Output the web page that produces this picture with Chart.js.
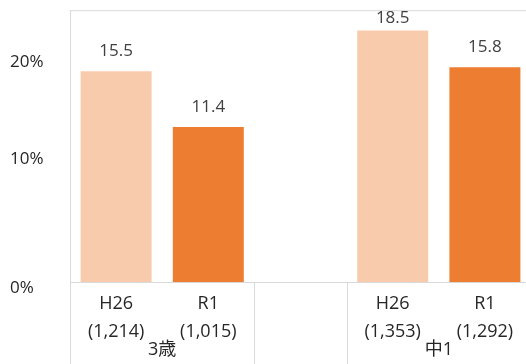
<!DOCTYPE html>
<html>
<head>
<meta charset="utf-8">
<script src="https://cdn.jsdelivr.net/npm/chart.js@4.4.1/dist/chart.umd.min.js"></script>
<style>
  html, body { margin: 0; padding: 0; overflow: hidden; background: #fff; }
  #wrap { width: 540px; height: 364px; }
</style>
</head>
<body>
<div id="wrap"><canvas id="chart"></canvas></div>
<script>
/* global Chart */

const groups = ['3歳', '中1']
const years = ['H26', 'R1']
const counts = [['(1,214)', '(1,015)'], ['(1,353)', '(1,292)']]
const valuesH26 = [15.5, 18.5]
const valuesR1 = [11.4, 15.8]
const yTickLabels = ['0%', '10%', '20%']
const yMax = 20
const colors = ['#F8CBAD', '#ED7D31']

const FONT = "'Open Sans', 'Noto Sans CJK JP', sans-serif"
const LINE = '#d9d9d9'

// two bars per group, one empty slot between the groups
const labels = []
const values = []
const barColors = []
groups.forEach((g, gi) => {
  if (gi > 0) {
    labels.push('')
    values.push(null)
    barColors.push('rgba(0,0,0,0)')
  }
  years.forEach((y, yi) => {
    labels.push([y, counts[gi][yi]])
    values.push(yi === 0 ? valuesH26[gi] : valuesR1[gi])
    barColors.push(colors[yi])
  })
})

const framePlugin = {
  id: 'frame',
  beforeDatasetsDraw (chart) {
    const { ctx, chartArea: a, scales: { x } } = chart
    ctx.save()
    ctx.strokeStyle = LINE
    ctx.lineWidth = 1
    ctx.beginPath()
    ctx.moveTo(a.left, a.top + 0.5)
    ctx.lineTo(a.right, a.top + 0.5)
    ctx.moveTo(a.left + 0.5, a.top)
    ctx.lineTo(a.left + 0.5, chart.height)
    ctx.moveTo(a.left, a.bottom + 0.5)
    ctx.lineTo(a.right, a.bottom + 0.5)
    // separators around the empty slot
    labels.forEach((l, i) => {
      if (l === '') {
        [i - 0.5, i + 0.5].forEach((v) => {
          const px = Math.round(x.getPixelForValue(v)) + 0.5
          ctx.moveTo(px, a.bottom)
          ctx.lineTo(px, chart.height)
        })
      }
    })
    ctx.stroke()
    ctx.restore()
  },
  afterDatasetsDraw (chart) {
    const { ctx, chartArea: a, scales: { x } } = chart
    const meta = chart.getDatasetMeta(0)
    ctx.save()
    ctx.font = `17px ${FONT}`
    ctx.textAlign = 'center'
    ctx.textBaseline = 'middle'
    ctx.fillStyle = '#404040'
    meta.data.forEach((bar, i) => {
      const v = values[i]
      if (v === null) return
      ctx.fillText(v.toFixed(1), bar.x, Math.max(bar.y - 20, a.top + 8))
    })
    // group labels
    ctx.font = `18px ${FONT}`
    ctx.fillStyle = '#262626'
    let idx = 0
    groups.forEach((g, gi) => {
      if (gi > 0) idx++
      const cx = (x.getPixelForValue(idx) + x.getPixelForValue(idx + years.length - 1)) / 2
      ctx.fillText(g, cx, a.bottom + 68)
      idx += years.length
    })
    ctx.restore()
  }
}

new Chart(document.getElementById('chart').getContext('2d'), {
  type: 'bar',
  data: {
    labels,
    datasets: [{
      data: values,
      backgroundColor: barColors,
      borderWidth: 0,
      categoryPercentage: 1,
      barPercentage: 0.77
    }]
  },
  options: {
    responsive: true,
    maintainAspectRatio: false,
    animation: false,
    layout: { padding: { left: 10, top: 9, right: 9, bottom: 0 } },
    plugins: {
      legend: { display: false },
      tooltip: { enabled: false }
    },
    scales: {
      x: {
        grid: { display: false },
        border: { display: false },
        ticks: {
          color: '#262626',
          font: { family: FONT, size: 18, lineHeight: 28 / 18 },
          padding: 0,
          maxRotation: 0,
          autoSkip: false
        },
        afterFit (s) { s.height = 82 }
      },
      y: {
        min: 0,
        max: yMax,
        grid: { display: false },
        border: { display: false },
        ticks: {
          color: '#262626',
          font: { family: FONT, size: 17 },
          padding: 0,
          crossAlign: 'far',
          callback: (v, i) => yTickLabels[i]
        },
        // label positions as they sit in the original picture
        afterBuildTicks (s) {
          s.ticks = [{ value: -0.45 }, { value: 9.05 }, { value: 16.2 }]
        },
        afterFit (s) { s.width = 60 }
      }
    }
  },
  plugins: [framePlugin]
})
</script>
</body>
</html>
